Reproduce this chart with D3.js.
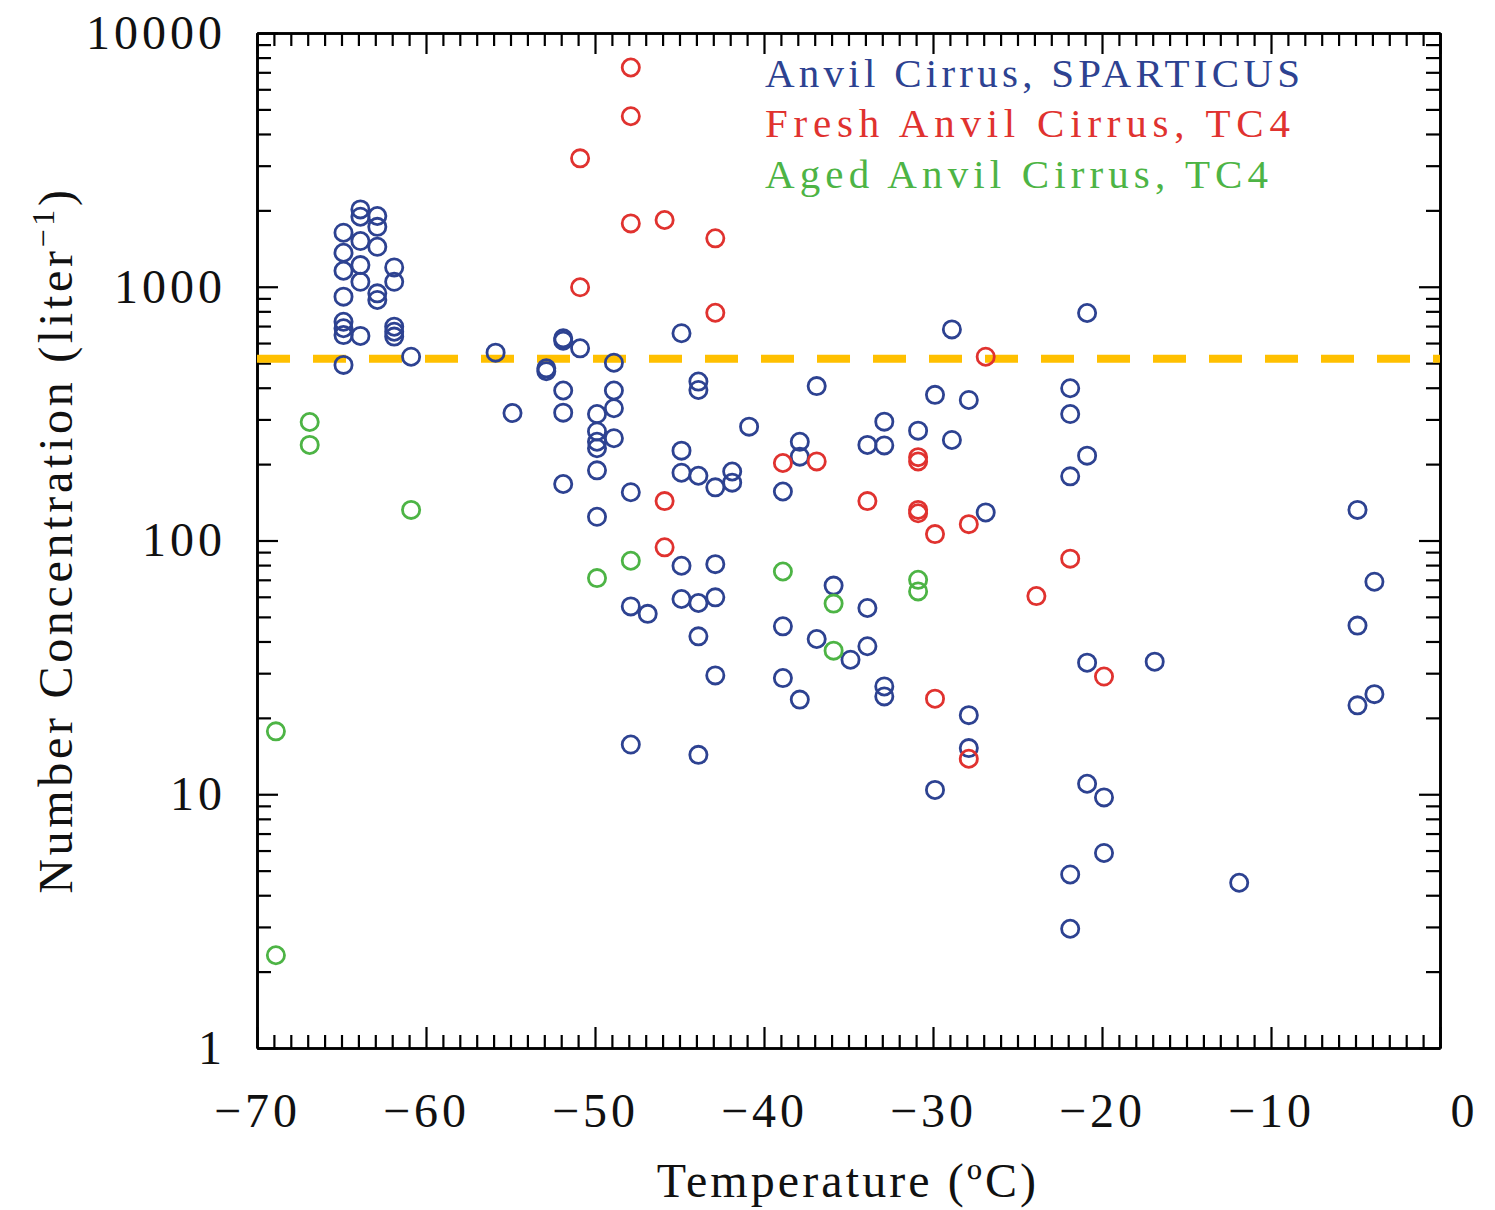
<!DOCTYPE html>
<html>
<head>
<meta charset="utf-8">
<script src="https://cdn.jsdelivr.net/npm/d3@7"></script>
<style>
body { margin: 0; background: #fff; }
</style>
</head>
<body>
<script>
// [temperature (C), number concentration (per liter)]
var sparticus = [
    [-65,1633],[-65,1361],[-65,1156],[-65,914],[-65,728],[-65,686],[-65,645],[-65,492],
    [-64,2018],[-64,1888],[-64,1514],[-64,1217],[-64,1046],[-64,640],
    [-63,1900],[-63,1722],[-63,1437],[-63,942],[-63,887],
    [-62,1192],[-62,1046],[-62,696],[-62,665],[-62,636],
    [-61,530],[-56,550],[-55,318],[-53,477],[-53,465],
    [-52,626],[-52,613],[-52,390],[-52,319],[-52,167],
    [-51,572],
    [-50,315],[-50,269],[-50,245],[-50,231],[-50,189],[-50,124],
    [-49,502],[-49,390],[-49,332],[-49,253],
    [-48,155],[-48,55],[-48,15.7],[-47,51.4],
    [-45,656],[-45,226],[-45,185],[-45,79.5],[-45,58.8],
    [-44,423],[-44,392],[-44,180],[-44,56.7],[-44,41.9],[-44,14.3],
    [-43,162],[-43,80.7],[-43,59.7],[-43,29.4],
    [-42,187],[-42,169],[-41,281],
    [-39,156],[-39,45.9],[-39,28.7],
    [-38,245],[-38,214],[-38,23.6],
    [-37,406],[-37,40.9],[-36,66.4],[-35,33.9],
    [-34,238],[-34,54.2],[-34,38.3],
    [-33,294],[-33,237],[-33,26.6],[-33,24.3],
    [-31,271],[-30,375],[-30,10.4],[-29,679],[-29,249],
    [-28,358],[-28,20.5],[-28,15.2],[-27,129],
    [-22,398],[-22,315],[-22,179],[-22,4.83],[-22,2.95],
    [-21,788],[-21,216],[-21,33.0],[-21,11.0],
    [-20,9.72],[-20,5.87],[-17,33.3],[-12,4.48],
    [-5,132],[-5,46.2],[-5,22.4],[-4,68.8],[-4,24.8]
];

var freshTC4 = [
    [-51,3206],[-51,995],[-48,7311],[-48,4698],[-48,1777],
    [-46,1833],[-46,143],[-46,94],[-43,1552],[-43,790],
    [-39,202],[-37,205],[-34,143],
    [-31,213],[-31,205],[-31,132],[-31,128],
    [-30,106],[-30,23.8],[-28,116],[-28,13.8],[-27,530],
    [-24,60.4],[-22,84.8],[-20,29.1]
];

var agedTC4 = [
    [-69,17.7],[-69,2.32],[-67,293],[-67,238],[-61,132],
    [-50,71.1],[-48,83.2],[-39,75.5],[-36,56.4],[-36,36.8],
    [-31,70.0],[-31,63.0]
];

var seriesNames = ["Anvil Cirrus, SPARTICUS", "Fresh Anvil Cirrus, TC4", "Aged Anvil Cirrus, TC4"];
var seriesColors = ["#2d4291", "#e0322f", "#4db445"];

var xMajor = [-70, -60, -50, -40, -30, -20, -10, 0];
var yMajor = [1, 10, 100, 1000, 10000];
var threshold = 520;

var W = 1495, H = 1210;
var plotLeft = 257, plotTop = 33, plotRight = 1440, plotBottom = 1048;

var xMinor = d3.range(-70, 1, 1).filter(function(d) { return d % 10 !== 0; });
var yMinor = [];
for (var k = 0; k < 4; k++) {
    for (var m = 2; m < 10; m++) yMinor.push(m * Math.pow(10, k));
}

var x = d3.scaleLinear().domain([-70, 0]).range([plotLeft, plotRight]);
var y = d3.scaleLog().domain([1, 10000]).range([plotBottom, plotTop]);

var svg = d3.select("body").append("svg")
    .attr("width", W)
    .attr("height", H);

var fmtX = function(d) { return d < 0 ? "\u2212" + (-d) : "" + d; };

function styleAxis(g) {
    g.selectAll(".domain").attr("stroke", "#000").attr("stroke-width", 2.6);
    g.selectAll(".tick line").attr("stroke", "#000").attr("stroke-width", 2.2);
    g.selectAll("text")
        .attr("fill", "#111")
        .style("font-family", "'Liberation Serif', 'Times New Roman', serif")
        .style("font-size", "48px")
        .style("letter-spacing", "4px");
}

// bottom
svg.append("g").attr("transform", "translate(0," + plotBottom + ")")
    .call(d3.axisBottom(x).tickValues(xMinor).tickSizeInner(-13).tickSizeOuter(0).tickFormat(""))
    .call(styleAxis);
var xb = svg.append("g").attr("transform", "translate(0," + plotBottom + ")")
    .call(d3.axisBottom(x).tickValues(xMajor).tickSizeInner(-21).tickSizeOuter(0).tickPadding(45).tickFormat(fmtX))
    .call(styleAxis);
xb.selectAll(".tick text").filter(function(d) { return d === 0; }).attr("dx", 24);

// top
svg.append("g").attr("transform", "translate(0," + plotTop + ")")
    .call(d3.axisTop(x).tickValues(xMinor).tickSizeInner(-13).tickSizeOuter(0).tickFormat(""))
    .call(styleAxis);
svg.append("g").attr("transform", "translate(0," + plotTop + ")")
    .call(d3.axisTop(x).tickValues(xMajor).tickSizeInner(-21).tickSizeOuter(0).tickFormat(""))
    .call(styleAxis);

// left
svg.append("g").attr("transform", "translate(" + plotLeft + ",0)")
    .call(d3.axisLeft(y).tickValues(yMinor).tickSizeInner(-14).tickSizeOuter(0).tickFormat(""))
    .call(styleAxis);
svg.append("g").attr("transform", "translate(" + plotLeft + ",0)")
    .call(d3.axisLeft(y).tickValues(yMajor).tickSizeInner(-21).tickSizeOuter(0).tickPadding(31).tickFormat(d3.format("d")))
    .call(styleAxis);

// right
svg.append("g").attr("transform", "translate(" + plotRight + ",0)")
    .call(d3.axisRight(y).tickValues(yMinor).tickSizeInner(-14).tickSizeOuter(0).tickFormat(""))
    .call(styleAxis);
svg.append("g").attr("transform", "translate(" + plotRight + ",0)")
    .call(d3.axisRight(y).tickValues(yMajor).tickSizeInner(-21).tickSizeOuter(0).tickFormat(""))
    .call(styleAxis);

// threshold line
svg.append("line")
    .attr("x1", x(-70)).attr("x2", x(0))
    .attr("y1", y(threshold)).attr("y2", y(threshold))
    .attr("stroke", "#ffc000")
    .attr("stroke-width", 8)
    .attr("stroke-dasharray", "33,23");

// points (original "o" glyphs sit a hair right of the value)
var allSeries = [sparticus, freshTC4, agedTC4];
allSeries.forEach(function(data, i) {
    svg.append("g").attr("transform", "translate(2,0)")
        .selectAll("circle")
        .data(data)
        .enter()
        .append("circle")
        .attr("cx", function(d) { return x(d[0]); })
        .attr("cy", function(d) { return y(d[1]); })
        .attr("r", 8.6)
        .attr("fill", "none")
        .attr("stroke", seriesColors[i])
        .attr("stroke-width", 2.8);
});

// legend
var legendY = [87, 137, 188];
var legendLen = [535, 525, 503];
seriesNames.forEach(function(name, i) {
    svg.append("text")
        .attr("x", 765)
        .attr("y", legendY[i])
        .attr("textLength", legendLen[i])
        .attr("lengthAdjust", "spacing")
        .attr("fill", seriesColors[i])
        .style("font-family", "'Liberation Serif', serif")
        .style("font-size", "41px")
        .text(name);
});

// axis titles
svg.append("text")
    .attr("x", 848)
    .attr("y", 1197)
    .attr("text-anchor", "middle")
    .attr("fill", "#111")
    .style("font-family", "'Liberation Serif', serif")
    .style("font-size", "48px")
    .style("letter-spacing", "3.1px")
    .text("Temperature (\u00baC)");

var yt = svg.append("text")
    .attr("transform", "translate(72,540) rotate(-90)")
    .attr("text-anchor", "middle")
    .attr("fill", "#111")
    .style("font-family", "'Liberation Serif', serif")
    .style("font-size", "48px")
    .style("letter-spacing", "3.7px");
yt.append("tspan").text("Number Concentration (liter");
yt.append("tspan").attr("dy", -18).style("font-size", "32px").text("\u22121");
yt.append("tspan").attr("dy", 18).text(")");
</script>
</body>
</html>
